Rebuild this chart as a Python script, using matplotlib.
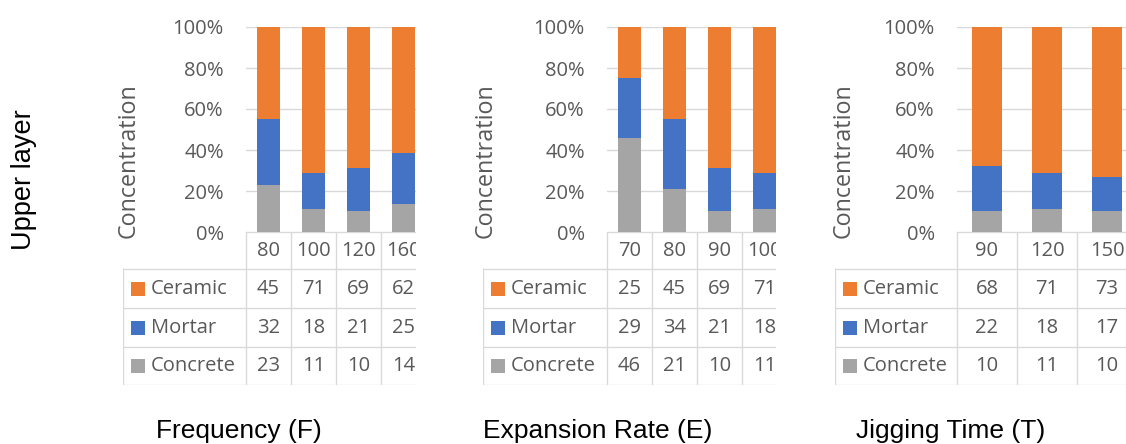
import matplotlib
matplotlib.use("Agg")
import matplotlib.pyplot as plt
from matplotlib.patches import Rectangle

# ---- data -------------------------------------------------------------
series_names = ["Ceramic", "Mortar", "Concrete"]
series_colors = ["#ED7D31", "#4472C4", "#A5A5A5"]

freq_levels = ["80", "100", "120", "160"]
freq_ceramic = [45, 71, 69, 62]
freq_mortar = [32, 18, 21, 25]
freq_concrete = [23, 11, 10, 14]

exp_levels = ["70", "80", "90", "100"]
exp_ceramic = [25, 45, 69, 71]
exp_mortar = [29, 34, 21, 18]
exp_concrete = [46, 21, 10, 11]

time_levels = ["90", "120", "150"]
time_ceramic = [68, 71, 73]
time_mortar = [22, 18, 17]
time_concrete = [10, 11, 10]

percent_ticks = [0, 20, 40, 60, 80, 100]
panel_titles = ["Frequency (F)", "Expansion Rate (E)", "Jigging Time (T)"]
row_title = "Upper layer"

# ---- layout (pixels, measured from the top-left corner) ----------------
W, H = 1126, 444
PLOT_TOP, PLOT_BOTTOM = 27, 232
ROW_EDGES = [232, 269, 308, 347, 385]
GRID = "#D9D9D9"
TEXT = "#595959"

plt.rcParams["font.family"] = ["Open Sans", "DejaVu Sans"]

fig = plt.figure(figsize=(W / 100, H / 100), dpi=100)
fig.patch.set_facecolor("white")


def px_axes(x0, y0, x1, y1):
    return fig.add_axes([x0 / W, 1 - y1 / H, (x1 - x0) / W, (y1 - y0) / H])


panels = [
    dict(levels=freq_levels, values=[freq_ceramic, freq_mortar, freq_concrete],
         label_left=123, plot_left=246, col_w=45, right=416, ylab_x=129, title_x=239),
    dict(levels=exp_levels, values=[exp_ceramic, exp_mortar, exp_concrete],
         label_left=483, plot_left=607, col_w=45, right=776, ylab_x=486, title_x=598),
    dict(levels=time_levels, values=[time_ceramic, time_mortar, time_concrete],
         label_left=835, plot_left=957, col_w=60, right=1126, ylab_x=844, title_x=951),
]

for p, title in zip(panels, panel_titles):
    n = len(p["levels"])
    col_w = p["col_w"]

    # stacked 100% columns
    ax = px_axes(p["plot_left"], PLOT_TOP, p["right"], PLOT_BOTTOM)
    ax.set_xlim(-0.5, -0.5 + (p["right"] - p["plot_left"]) / col_w)
    ax.set_ylim(0, 100)
    totals = [sum(v[i] for v in p["values"]) for i in range(n)]
    x = list(range(n))
    bottom = [0.0] * n
    for vals, color in zip(reversed(p["values"]), reversed(series_colors)):
        h = [v / t * 100 for v, t in zip(vals, totals)]
        ax.bar(x, h, width=0.5, bottom=bottom, color=color, zorder=2, linewidth=0)
        bottom = [b + hh for b, hh in zip(bottom, h)]
    ax.set_yticks(percent_ticks)
    ax.set_yticklabels([f"{t}%" for t in percent_ticks])
    ax.set_xticks([])
    ax.tick_params(axis="y", length=0, pad=16, labelsize=14.5, labelcolor=TEXT)
    ax.yaxis.grid(True, color=GRID, linewidth=1.0, zorder=0)
    ax.set_axisbelow(True)
    for s in ax.spines.values():
        s.set_visible(False)

    fig.text(p["ylab_x"] / W, 1 - 161 / H, "Concentration", rotation=90,
             ha="center", va="center", fontsize=16.8, color=TEXT)

    # data table under the columns
    tw = p["right"] - p["label_left"]
    th = ROW_EDGES[-1] - ROW_EDGES[0]
    tax = px_axes(p["label_left"], ROW_EDGES[0], p["right"], ROW_EDGES[-1])
    tax.set_xlim(0, tw)
    tax.set_ylim(th, 0)
    tax.axis("off")
    c0 = p["plot_left"] - p["label_left"]
    rows = [r - ROW_EDGES[0] for r in ROW_EDGES]
    lw = 0.95
    tax.plot([c0, tw], [0, 0], color=GRID, lw=lw, clip_on=True)
    for r in rows[1:]:
        tax.plot([0, tw], [r, r], color=GRID, lw=lw, clip_on=True)
    tax.plot([0, 0], [rows[1], rows[-1]], color=GRID, lw=lw, clip_on=True)
    for k in range(n + 1):
        xx = c0 + k * col_w
        tax.plot([xx, xx], [0, rows[-1]], color=GRID, lw=lw, clip_on=True)

    hc = (rows[0] + rows[1]) / 2
    for i, lev in enumerate(p["levels"]):
        tax.text(c0 + (i + 0.5) * col_w, hc, lev, ha="center", va="center",
                 fontsize=14.5, color=TEXT, clip_on=True)
    for j, (name, color, vals) in enumerate(zip(series_names, series_colors, p["values"])):
        rc = (rows[j + 1] + rows[j + 2]) / 2
        tax.add_patch(Rectangle((8, rc - 7), 14, 14, color=color, lw=0))
        tax.text(28, rc, name, ha="left", va="center", fontsize=14.5, color=TEXT)
        for i, v in enumerate(vals):
            tax.text(c0 + (i + 0.5) * col_w, rc, str(v), ha="center", va="center",
                     fontsize=14.5, color=TEXT, clip_on=True)

    fig.text(p["title_x"] / W, 1 - 431 / H, title, ha="center", va="center",
             fontsize=19, color="black", family=["Liberation Sans", "DejaVu Sans"])

fig.text(24 / W, 1 - 180 / H, row_title, rotation=90, ha="center", va="center",
         fontsize=19.5, color="black", family=["Liberation Sans", "DejaVu Sans"])

fig.savefig("out.png", dpi=100, facecolor="white")
